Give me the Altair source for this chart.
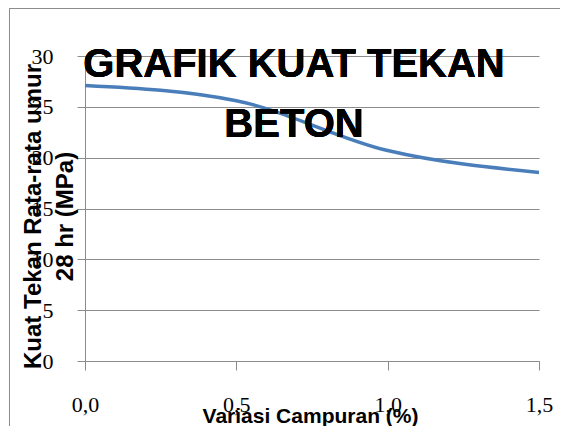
import altair as alt
import pandas as pd

variasi = [0.0, 0.5, 1.0, 1.5]
kuat_tekan = [27.1, 25.6, 20.7, 18.55]
y_ticks = [0, 5, 10, 15, 20, 25, 30]
x_ticks = [0.0, 0.5, 1.0, 1.5]
title_lines = ["GRAFIK KUAT TEKAN", "BETON"]
y_title = ["Kuat Tekan Rata-rata umur", "28 hr (MPa)"]
x_title = "Variasi Campuran (%)"

df = pd.DataFrame({"x": variasi, "y": kuat_tekan})

GRAY = "#8c8c8c"

line = alt.Chart(df).mark_line(
    color="#4a7ebb", strokeWidth=3.5, interpolate="monotone"
).encode(
    x=alt.X("x:Q", scale=alt.Scale(domain=[0, 1.5], nice=False, zero=False),
            axis=alt.Axis(values=x_ticks, grid=False,
                          labelExpr="replace(format(datum.value, '.1f'), '.', ',')",
                          labelFont="Liberation Serif", labelFontSize=22, labelColor="black",
                          labelPadding=24, tickSize=9, tickColor=GRAY, domainColor=GRAY,
                          title=x_title, titleFont="Liberation Sans", titleFontSize=21,
                          titleFontWeight="bold", titleColor="black",
                          titleY=61, titleBaseline="alphabetic", titleX=225,
                          labelFlush=False)),
    y=alt.Y("y:Q", scale=alt.Scale(domain=[0, 30], nice=False),
            axis=alt.Axis(values=y_ticks, grid=True, gridColor=GRAY,
                          labelFont="Liberation Serif", labelFontSize=22, labelColor="black",
                          labelPadding=24, tickSize=8, tickColor=GRAY, domainColor=GRAY,
                          title=y_title, titleFont="Liberation Sans", titleFontSize=24,
                          titleFontWeight="bold", titleColor="black",
                          titleX=-52, titleY=160, titleBaseline="middle",
                          titleLineHeight=32, titleAngle=270)),
)

title = alt.Chart(df).mark_text(
    font="Liberation Sans", fontSize=40, fontWeight="bold", color="black",
    align="center", baseline="alphabetic", lineHeight=60
).encode(x=alt.value(209), y=alt.value(21), text=alt.value(title_lines))

frame_top = alt.Chart(df).mark_rule(color=GRAY, strokeWidth=1).encode(
    x=alt.value(-75), x2=alt.value(480), y=alt.value(-47.5))
frame_left = alt.Chart(df).mark_rule(color=GRAY, strokeWidth=1).encode(
    x=alt.value(-75.5), y=alt.value(-47.5), y2=alt.value(400))

chart = alt.layer(frame_top, frame_left, line, title).properties(
    width=454, height=305,
    autosize=alt.AutoSizeParams(type="none"),
    padding={"left": 77, "top": 48, "right": 21, "bottom": 65},
).configure_view(stroke=None).configure_axis(domainWidth=1, gridWidth=1)

chart.save("out.html", embed_options={"renderer": "svg", "actions": False})
